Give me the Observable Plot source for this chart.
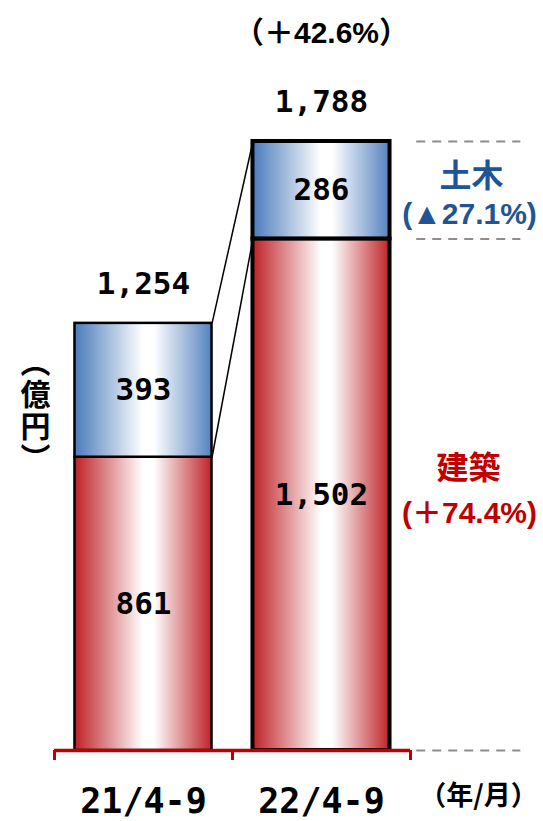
<!DOCTYPE html>
<html><head><meta charset="utf-8">
<script src="https://cdn.jsdelivr.net/npm/d3@7"></script>
<script src="https://cdn.jsdelivr.net/npm/@observablehq/plot@0.6"></script>
<style>body{margin:0;background:#fff}svg{display:block}</style>
</head><body><div id="chart"></div>
<script>
// ---- data ----
const categories = ["21/4-9", "22/4-9"];
const building = [861, 1502];   // 建築
const civil = [393, 286];       // 土木
const totals = [1254, 1788];
const totalChangeLabel = "（＋42.6%）";
const civilName = "土木";
const civilChangeLabel = "(▲27.1%)";
const buildingName = "建築";
const buildingChangeLabel = "(＋74.4%)";
const unitLabel = "（億円）";
const periodUnitLabel = "（年/月）";

// ---- style ----
const MONO = "'DejaVu Sans Mono', 'Noto Sans CJK JP', monospace";
const SANS = "'Liberation Sans', 'Noto Sans CJK JP', sans-serif";
const CJK = "'Noto Sans CJK JP', sans-serif";
const RED = "#C00000";
const BLUE_TXT = "#1F5596";
const HALF = 0.385;
const fmt = d3.format(",");

const idx = categories.map((_, i) => i);
const segs = idx.flatMap(i => [
  {i, part: "building", y1: 0, y2: building[i], v: building[i]},
  {i, part: "civil", y1: building[i], y2: building[i] + civil[i], v: civil[i]}
]);
const last = idx.length - 1;

const chart = Plot.plot({
  width: 543, height: 821,
  marginLeft: 54, marginRight: 133, marginTop: 141, marginBottom: 71,
  x: {domain: [-0.5, last + 0.5], axis: null, label: null},
  y: {domain: [0, d3.max(totals)], axis: null, label: null},
  marks: [
    // dashed guides on the right
    Plot.ruleY([totals[last], building[last], 0], {x1: last + 0.535, x2: last + 1.12, stroke: "#8C8C8C", strokeWidth: 2, strokeDasharray: "9,7"}),
    // connecting lines
    Plot.link([0], {x1: i => i + HALF, x2: i => i + 1 - HALF, y1: i => totals[i], y2: i => totals[i + 1], stroke: "#000", strokeWidth: 1.5}),
    Plot.link([0], {x1: i => i + HALF, x2: i => i + 1 - HALF, y1: i => building[i], y2: i => building[i + 1], stroke: "#000", strokeWidth: 1.5}),
    // bars
    Plot.rect(segs.filter(d => d.part === "building"), {x1: d => d.i - HALF, x2: d => d.i + HALF, y1: "y1", y2: "y2", fill: "url(#gRed)", stroke: "#000", strokeWidth: d => d.i === last ? 4 : 2.5}),
    Plot.rect(segs.filter(d => d.part === "civil"), {x1: d => d.i - HALF, x2: d => d.i + HALF, y1: "y1", y2: "y2", fill: "url(#gBlue)", stroke: "#000", strokeWidth: d => d.i === last ? 4 : 2.5}),
    // baseline & ticks
    Plot.ruleY([0], {stroke: RED, strokeWidth: 3.5}),
    Plot.axisX({ticks: [-0.5, 0.5, last + 0.5], tickSize: 10, tickFormat: () => "", label: null, stroke: RED, strokeWidth: 3}),
    // segment values
    Plot.text(segs, {x: "i", y: d => (d.y1 + d.y2) / 2, text: d => fmt(d.v), fontSize: 31, fontWeight: "bold", fontFamily: MONO, fill: "#000"}),
    // totals
    Plot.text(idx, {x: i => i, y: i => totals[i], text: i => fmt(totals[i]), dy: -39, fontSize: 31, fontWeight: "bold", fontFamily: MONO, fill: "#000"}),
    Plot.text([last], {x: i => i, y: i => totals[i], text: () => totalChangeLabel, dy: -108, fontSize: 30, fontWeight: "bold", fontFamily: SANS, fill: "#000"}),
    // category labels
    Plot.text(idx, {x: i => i, y: 0, text: i => categories[i], dy: 51, fontSize: 35, fontWeight: "bold", fontFamily: MONO, fill: "#000"}),
    Plot.text([0], {y: 0, frameAnchor: "right", textAnchor: "middle", text: () => periodUnitLabel, dx: 68, dy: 46, fontSize: 27, fontWeight: "bold", fontFamily: CJK, fill: "#000"}),
    // right annotations
    Plot.text([last], {y: i => building[i] + civil[i] / 2, frameAnchor: "right", textAnchor: "middle", text: () => civilName, dx: 61, dy: -13, fontSize: 32, fontWeight: "bold", fontFamily: CJK, fill: BLUE_TXT}),
    Plot.text([last], {y: i => building[i] + civil[i] / 2, frameAnchor: "right", textAnchor: "middle", text: () => civilChangeLabel, dx: 59, dy: 24, fontSize: 30, fontWeight: "bold", fontFamily: SANS, fill: BLUE_TXT}),
    Plot.text([last], {y: i => building[i] / 2, frameAnchor: "right", textAnchor: "middle", text: () => buildingName, dx: 58, dy: -26, fontSize: 32, fontWeight: "bold", fontFamily: CJK, fill: RED}),
    Plot.text([last], {y: i => building[i] / 2, frameAnchor: "right", textAnchor: "middle", text: () => buildingChangeLabel, dx: 59, dy: 19, fontSize: 30, fontWeight: "bold", fontFamily: SANS, fill: RED}),
    // unit (vertical writing)
    Plot.text([0], {frameAnchor: "left", textAnchor: "middle", text: () => unitLabel, dx: -19, dy: -45, fontSize: 30, fontWeight: "bold", fontFamily: CJK, fill: "#000"})
  ]
});

// vertical writing for the unit label
d3.select(chart).selectAll("text").filter(function() { return this.textContent === unitLabel; })
  .style("writing-mode", "vertical-rl").attr("dy", null).attr("letter-spacing", "2");

// gradients
const defs = d3.select(chart).insert("defs", ":first-child");
function grad(id, stops) {
  const g = defs.append("linearGradient").attr("id", id).attr("x1", 0).attr("x2", 1).attr("y1", 0).attr("y2", 0);
  stops.forEach(([o, c]) => g.append("stop").attr("offset", o).attr("stop-color", c));
}
grad("gBlue", [[0, "#4A7BBB"], [0.5, "#FFFFFF"], [0.58, "#FFFFFF"], [1, "#5682BF"]]);
grad("gRed", [[0, "#BE2126"], [0.5, "#FFFFFF"], [0.58, "#FFFFFF"], [1, "#BE2328"]]);

document.getElementById("chart").appendChild(chart);
</script></body></html>
